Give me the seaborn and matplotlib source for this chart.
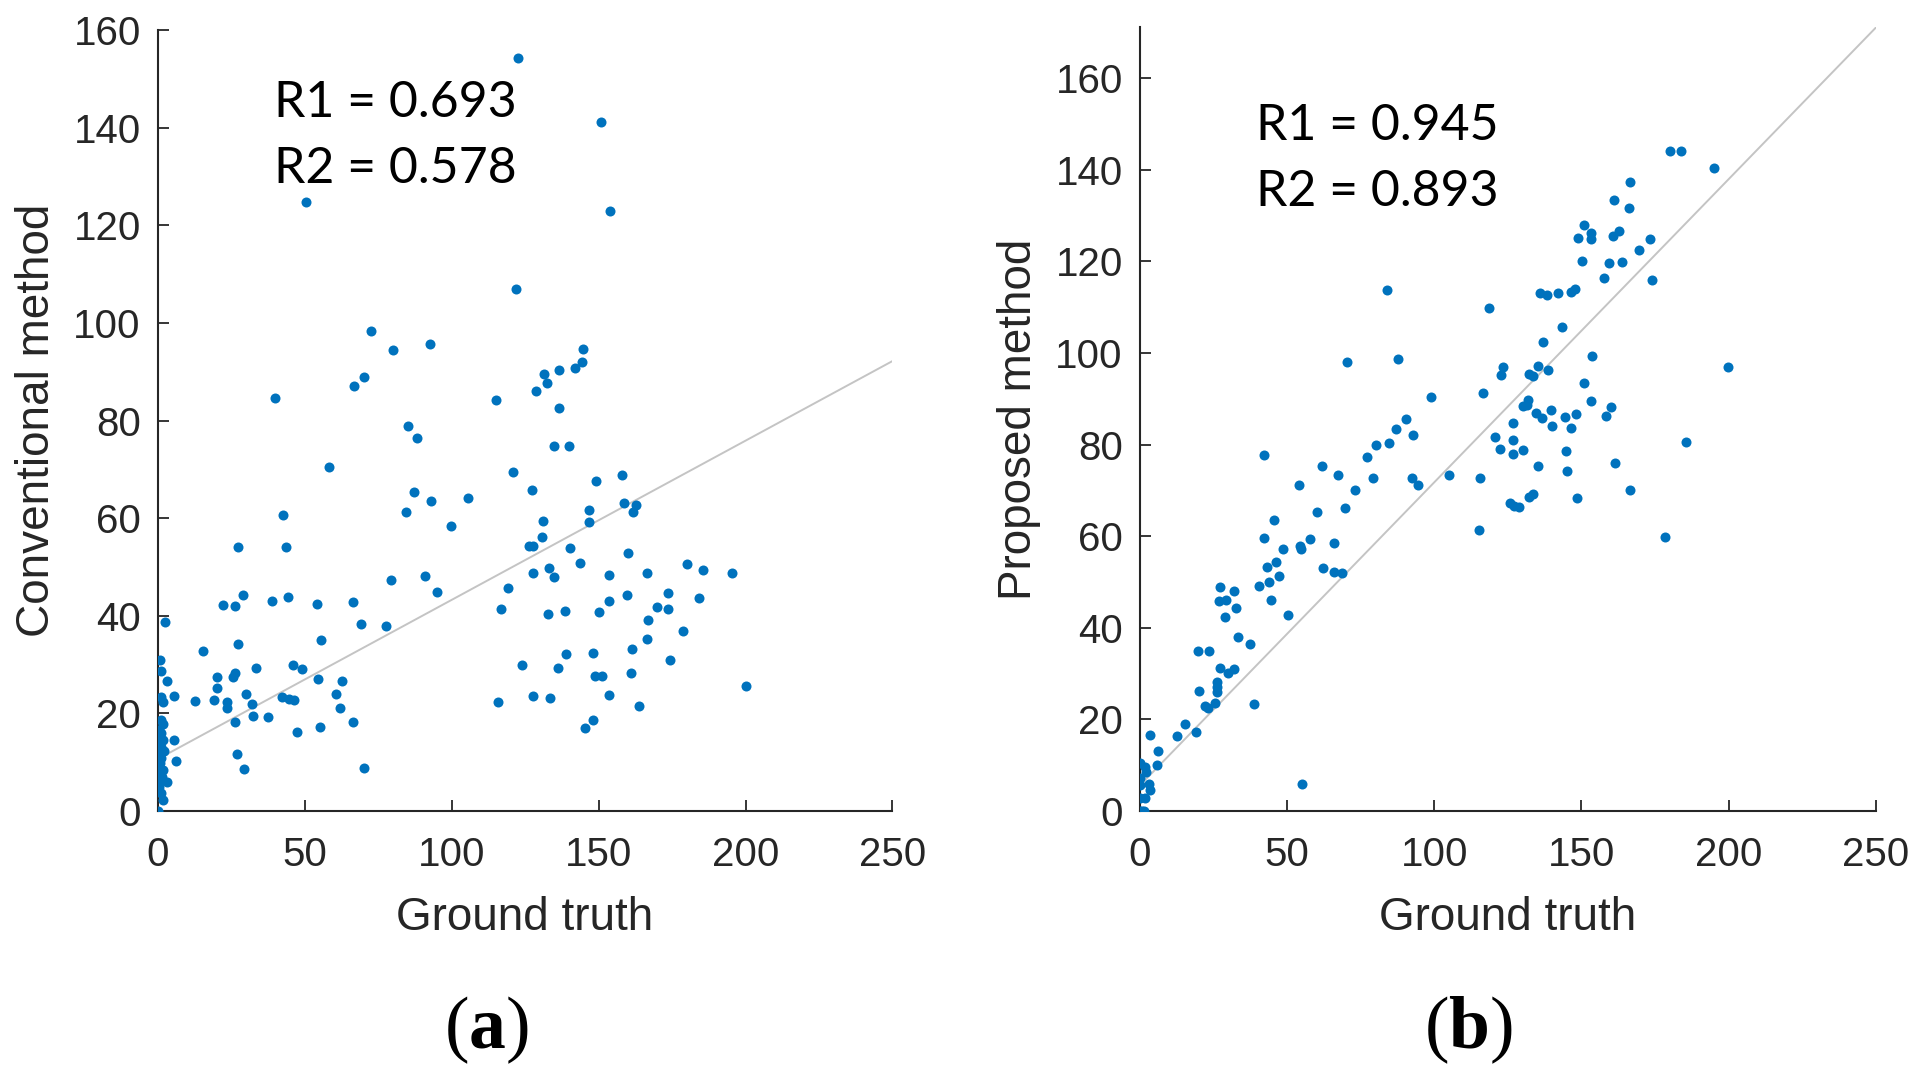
import numpy as np
import pandas as pd
import matplotlib
matplotlib.use("Agg")
import matplotlib.pyplot as plt
import seaborn as sns

# ---------- data ----------
# (a) conventional method vs ground truth
conv_points = [
    (122.5, 154.3), (150.8, 141.2), (50.4, 124.8), (154.0, 123.0), (122.1, 107.0),
    (72.5, 98.4), (80.0, 94.4), (92.7, 95.7), (144.8, 94.6), (144.4, 92.0),
    (142.1, 90.7), (136.5, 90.4), (131.5, 89.5), (132.5, 87.6), (128.8, 86.1),
    (70.4, 88.9), (66.9, 87.1), (40.0, 84.6), (115.2, 84.3), (136.7, 82.6),
    (85.3, 78.8), (88.2, 76.5), (58.3, 70.4), (121.0, 69.5), (127.4, 65.7),
    (87.4, 65.3), (93.0, 63.5), (105.5, 64.1), (84.4, 61.2), (42.7, 60.6),
    (131.0, 59.5), (99.7, 58.3), (130.9, 56.2), (27.5, 54.0), (43.8, 54.1),
    (126.5, 54.3), (127.6, 54.3), (127.6, 48.7), (133.0, 49.7), (135.0, 48.0),
    (79.4, 47.4), (91.0, 48.1), (119.3, 45.7), (94.9, 44.8), (29.2, 44.2),
    (22.4, 42.3), (26.5, 42.0), (39.1, 43.0), (44.3, 43.8), (54.2, 42.5),
    (66.4, 42.9), (116.9, 41.3), (132.8, 40.3), (69.1, 38.4), (77.6, 38.0),
    (27.5, 34.3), (55.6, 35.0), (15.5, 32.8), (124.1, 30.0), (46.0, 30.0),
    (49.0, 29.1), (33.6, 29.2), (20.3, 27.4), (25.7, 27.5), (26.4, 28.2),
    (54.5, 27.0), (62.8, 26.6), (20.1, 25.1), (30.2, 24.0), (60.7, 24.0),
    (12.6, 22.6), (19.2, 22.8), (23.5, 22.3), (23.6, 21.1), (32.3, 22.0),
    (42.3, 23.3), (44.7, 22.9), (46.4, 22.7), (62.0, 21.1), (115.7, 22.4),
    (127.6, 23.6), (133.5, 23.1), (32.5, 19.5), (37.5, 19.3), (26.5, 18.2),
    (66.5, 18.3), (55.1, 17.2), (47.3, 16.2), (26.9, 11.7), (29.5, 8.7),
    (70.2, 8.9),
    (134.7, 74.8), (140.0, 74.7), (158.0, 68.9), (149.2, 67.7), (158.6, 63.2),
    (162.7, 62.7), (161.8, 61.2), (146.7, 61.7), (146.9, 59.3), (140.3, 53.9),
    (160.1, 52.9), (143.7, 50.9), (153.5, 48.3), (166.6, 48.8), (180.0, 50.6),
    (185.6, 49.4), (195.4, 48.7), (173.7, 44.7), (184.1, 43.6), (153.5, 43.1),
    (159.6, 44.2), (138.5, 40.9), (150.2, 40.7), (170.0, 41.7), (173.7, 41.4),
    (166.7, 39.2), (178.7, 36.9), (166.4, 35.3), (161.3, 33.1), (138.9, 32.2),
    (148.0, 32.4), (136.1, 29.4), (148.9, 27.7), (151.1, 27.7), (161.2, 28.2),
    (174.2, 30.9), (200.1, 25.7), (153.5, 23.8), (163.7, 21.5), (148.2, 18.7),
    (145.5, 17.1),
    (2.5, 38.8), (0.9, 30.9), (1.1, 28.7), (3.2, 26.6), (1.1, 23.3), (1.7, 22.4),
    (5.6, 23.5), (1.1, 18.6), (1.7, 17.8), (0.6, 16.5), (1.1, 15.9), (0.3, 14.5),
    (1.7, 14.5), (5.7, 14.5), (1.1, 13.2), (2.3, 12.2), (0.0, 11.5), (6.2, 10.2),
    (0.9, 9.8), (0.3, 8.4), (1.7, 8.4), (0.0, 7.0), (1.5, 7.0), (3.2, 5.9),
    (0.6, 5.0), (1.1, 3.6), (1.7, 2.3), (0.0, 0.0), (0.5, 12.6), (1.2, 10.8),
    (0.5, 6.0),
]

# (b) proposed method vs ground truth
prop_points = [
    (42.4, 77.8), (61.8, 75.4), (67.2, 73.4), (54.2, 71.2), (79.2, 72.7),
    (77.3, 77.4), (80.2, 79.9), (84.8, 80.4), (86.9, 83.5), (90.5, 85.6),
    (92.9, 82.2), (92.4, 72.6), (94.6, 71.2), (73.0, 70.0), (104.9, 73.4),
    (115.4, 72.7), (120.5, 81.6), (122.2, 79.1), (126.9, 84.7), (126.9, 81.1),
    (126.8, 78.0), (130.3, 78.8), (125.8, 67.2), (127.1, 66.5), (128.7, 66.4),
    (115.2, 61.4), (60.4, 65.3), (69.8, 66.1), (45.7, 63.6), (42.3, 59.6),
    (57.9, 59.3), (66.1, 58.6), (54.3, 57.8), (54.9, 57.2), (48.6, 57.3),
    (46.3, 54.4), (43.2, 53.2), (62.4, 53.0), (66.1, 52.2), (68.7, 52.0),
    (47.2, 51.2), (44.1, 50.1), (40.4, 49.1), (27.3, 48.8), (32.0, 48.1),
    (26.9, 45.8), (29.3, 46.1), (44.5, 46.0), (32.6, 44.4), (29.0, 42.3),
    (50.5, 42.9), (33.5, 38.0), (37.4, 36.4), (20.0, 35.0), (23.5, 34.9),
    (27.3, 31.3), (29.9, 30.1), (32.2, 30.9), (26.4, 28.2), (26.4, 27.0),
    (26.4, 25.9), (20.2, 26.2), (22.2, 23.0), (23.4, 22.4), (25.6, 23.5),
    (38.8, 23.4), (15.3, 18.9), (12.8, 16.4), (19.2, 17.2), (3.4, 16.5),
    (6.2, 13.1), (5.9, 10.1), (55.3, 5.8),
    (0.2, 10.4), (1.9, 9.7), (2.3, 8.6), (0.2, 7.2), (0.2, 5.7), (3.1, 5.8),
    (3.6, 4.5), (0.2, 2.9), (1.9, 2.9), (0.8, 0.0), (1.6, 0.0), (0.0, 0.0),
    (179.9, 144.0), (183.9, 144.0), (195.1, 140.5), (166.4, 137.3), (161.1, 133.3),
    (166.3, 131.6), (150.8, 128.0), (149.0, 125.2), (153.3, 126.3), (153.3, 125.0),
    (160.8, 125.5), (162.7, 126.6), (173.4, 125.0), (169.7, 122.5), (150.2, 120.1),
    (159.4, 119.7), (163.6, 119.9), (157.8, 116.3), (173.9, 116.0), (118.5, 109.9),
    (135.9, 113.2), (138.3, 112.6), (142.0, 113.1), (146.3, 113.4), (147.8, 113.9),
    (143.5, 105.6), (136.9, 102.5), (153.7, 99.4), (199.9, 96.9), (123.5, 97.0),
    (122.6, 95.3), (132.3, 95.5), (133.4, 95.0), (135.1, 97.1), (138.8, 96.3),
    (116.5, 91.3), (150.9, 93.4), (131.8, 89.8), (130.3, 88.5), (131.6, 88.6),
    (153.4, 89.6), (159.9, 88.3), (158.4, 86.2), (134.6, 87.0), (136.6, 85.9),
    (139.6, 87.5), (144.3, 86.0), (148.1, 86.7), (140.1, 84.0), (146.6, 83.7),
    (144.9, 78.7), (185.4, 80.6), (135.2, 75.3), (145.2, 74.3), (161.5, 75.9),
    (166.5, 70.1), (132.3, 68.6), (133.4, 69.3), (148.4, 68.4), (178.4, 59.9),
    (84.0, 113.8), (70.5, 98.0), (87.8, 98.6), (99.0, 90.5),
]

# fitted lines (intercept, slope)
conv_fit = (10.6, 0.3264)
prop_fit = (5.5, 0.6624)

conv_r = ["R1 = 0.693", "R2 = 0.578"]
prop_r = ["R1 = 0.945", "R2 = 0.893"]

x_range = (0, 250)
conv_ylim = (0, 160)
prop_ylim = (0, 171.1)
xticks = [0, 50, 100, 150, 200, 250]
yticks = [0, 20, 40, 60, 80, 100, 120, 140, 160]

# ---------- style ----------
sns.set_theme(style="white")
plt.rcParams["font.family"] = ["Liberation Sans", "DejaVu Sans"]
plt.rcParams["mathtext.fontset"] = "custom"
plt.rcParams["mathtext.rm"] = "Liberation Serif"
plt.rcParams["mathtext.bf"] = "Liberation Serif:bold"

dark = "#262626"
blue = "#0072BD"

fig = plt.figure(figsize=(19.21, 10.78), dpi=100)
ax_a = fig.add_axes([0.0820, 0.2477, 0.3826, 0.7243])
ax_b = fig.add_axes([0.5932, 0.2477, 0.3834, 0.7269])


def draw_panel(ax, points, fit, rtext, ylim, ylabel, text_y):
    df = pd.DataFrame(points, columns=["gt", "pred"])
    xs = np.array(x_range, dtype=float)
    sns.lineplot(x=xs, y=fit[0] + fit[1] * xs, ax=ax, color="#c4c4c4",
                 linewidth=1.4, zorder=1)
    sns.scatterplot(data=df, x="gt", y="pred", ax=ax, color=blue, s=52,
                    linewidth=0, zorder=3)
    ax.set_xlim(*x_range)
    ax.set_ylim(*ylim)
    ax.set_xticks(xticks)
    ax.set_yticks(yticks)
    ax.set_xlabel("Ground truth", fontsize=33, color=dark, labelpad=16)
    ax.set_ylabel(ylabel, fontsize=33, color=dark, labelpad=10)
    ax.tick_params(axis="both", direction="in", length=8, width=1.3,
                   colors=dark, labelsize=29, bottom=True, left=True)
    ax.tick_params(axis="x", pad=18)
    ax.tick_params(axis="y", pad=12)
    for side in ["top", "right"]:
        ax.spines[side].set_visible(False)
    for side in ["left", "bottom"]:
        ax.spines[side].set_color(dark)
        ax.spines[side].set_linewidth(1.5)
    for txt, ty in zip(rtext, text_y):
        ax.text(39.6, ty, txt, fontsize=36, family=["Lato", "DejaVu Sans"],
                color="black", va="baseline", ha="left")


draw_panel(ax_a, conv_points, conv_fit, conv_r, conv_ylim,
           "Conventional method", (142.2, 128.6))
draw_panel(ax_b, prop_points, prop_fit, prop_r, prop_ylim,
           "Proposed method", (146.5, 132.1))

fig.text(486 / 1921, 1 - 1048 / 1078, r"$\mathrm{(}\mathbf{a}\mathrm{)}$",
         fontsize=53, ha="center", va="baseline", color="black")
fig.text(1468 / 1921, 1 - 1048 / 1078, r"$\mathrm{(}\mathbf{b}\mathrm{)}$",
         fontsize=53, ha="center", va="baseline", color="black")

fig.savefig("out.png", dpi=100)
plt.close(fig)
